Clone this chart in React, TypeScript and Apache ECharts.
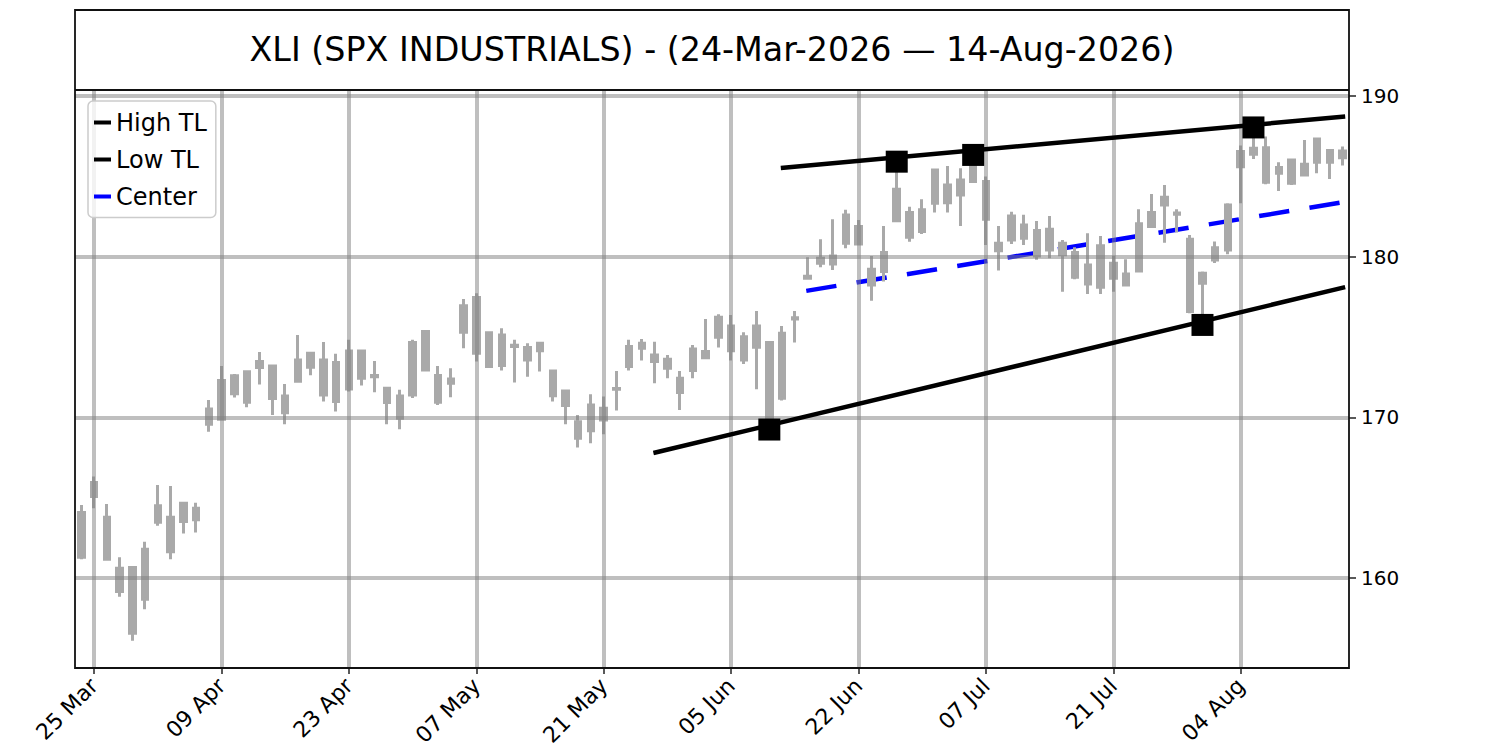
import React, { useEffect, useRef } from "react";
import * as echarts from "echarts";

const FONT = "DejaVu Sans";

const titleText = "XLI (SPX INDUSTRIALS) - (24-Mar-2026 — 14-Aug-2026)";

const dates = [
  "24 Mar", "25 Mar", "26 Mar", "27 Mar", "30 Mar", "31 Mar",
  "01 Apr", "02 Apr", "06 Apr", "07 Apr", "08 Apr", "09 Apr", "10 Apr", "13 Apr", "14 Apr", "15 Apr",
  "16 Apr", "17 Apr", "20 Apr", "21 Apr", "22 Apr", "23 Apr", "24 Apr", "27 Apr", "28 Apr", "29 Apr", "30 Apr",
  "01 May", "04 May", "05 May", "06 May", "07 May", "08 May", "11 May", "12 May", "13 May", "14 May",
  "15 May", "18 May", "19 May", "20 May", "21 May", "22 May", "26 May", "27 May", "28 May", "29 May",
  "01 Jun", "02 Jun", "03 Jun", "04 Jun", "05 Jun", "08 Jun", "09 Jun", "10 Jun", "11 Jun", "12 Jun",
  "15 Jun", "16 Jun", "17 Jun", "18 Jun", "22 Jun", "23 Jun", "24 Jun", "25 Jun", "26 Jun", "29 Jun", "30 Jun",
  "01 Jul", "02 Jul", "06 Jul", "07 Jul", "08 Jul", "09 Jul", "10 Jul", "13 Jul", "14 Jul", "15 Jul",
  "16 Jul", "17 Jul", "20 Jul", "21 Jul", "22 Jul", "23 Jul", "24 Jul", "27 Jul", "28 Jul", "29 Jul", "30 Jul", "31 Jul",
  "03 Aug", "04 Aug", "05 Aug", "06 Aug", "07 Aug", "10 Aug", "11 Aug", "12 Aug", "13 Aug", "14 Aug",
];

const open = [
  161.29, 165.07, 163.78, 160.61, 160.65, 158.68, 163.47, 163.78, 163.51, 164.34,
  169.57, 169.88, 171.46, 172.83, 173.10, 173.20, 171.33, 172.24, 173.12, 173.57,
  173.41, 171.77, 174.13, 172.60, 171.81, 171.33, 171.39, 172.95, 172.60, 172.12,
  175.29, 177.45, 175.27, 173.22, 174.40, 174.34, 174.15, 172.89, 171.64, 169.73,
  169.17, 170.56, 171.74, 173.16, 174.30, 173.88, 173.61, 172.43, 172.91, 173.71,
  174.98, 175.69, 175.02, 174.36, 174.65, 171.19, 176.12, 178.65, 179.59, 179.54,
  180.83, 181.87, 179.21, 179.07, 182.24, 182.74, 181.56, 183.32, 184.46, 183.84,
  184.67, 184.67, 180.83, 181.04, 181.97, 181.62, 180.42, 180.83, 180.25, 179.48,
  178.10, 179.59, 178.92, 179.11, 181.87, 183.22, 182.72, 181.08, 178.34, 179.79,
  180.42, 185.60, 186.37, 186.78, 185.19, 186.02, 185.08, 185.87, 186.60, 186.16,
];
const close = [
  164.07, 165.94, 161.17, 159.16, 156.56, 161.79, 164.49, 161.64, 164.65, 163.62,
  170.52, 172.29, 172.58, 170.94, 173.47, 171.17, 170.29, 173.57, 173.99, 171.39,
  170.98, 174.13, 172.43, 172.52, 170.92, 169.94, 174.65, 175.34, 170.94, 172.39,
  176.95, 173.99, 173.16, 175.13, 174.48, 173.57, 174.61, 171.35, 170.73, 168.70,
  170.77, 169.84, 171.80, 174.40, 174.61, 173.47, 173.05, 171.54, 174.25, 174.09,
  176.23, 174.15, 173.57, 175.69, 169.60, 175.23, 176.20, 178.78, 179.90, 180.04,
  182.59, 180.79, 178.24, 180.25, 184.19, 181.21, 182.91, 185.39, 183.36, 184.77,
  185.90, 182.33, 180.37, 182.53, 181.14, 180.04, 181.70, 180.11, 178.72, 178.30,
  180.67, 178.65, 178.24, 182.04, 182.74, 183.69, 182.64, 176.58, 178.97, 180.56,
  183.22, 186.54, 186.74, 184.63, 185.54, 184.57, 185.75, 187.32, 185.87, 186.58,
];
const low = [
  161.17, 164.34, 161.08, 158.84, 156.09, 158.06, 163.26, 161.17, 162.77, 162.83,
  169.11, 169.80, 171.23, 170.63, 172.04, 170.15, 169.57, 172.20, 172.62, 170.98,
  170.36, 171.60, 171.98, 171.56, 169.57, 169.26, 171.20, 172.90, 170.77, 171.25,
  174.30, 173.47, 173.10, 172.91, 172.16, 172.53, 172.85, 170.98, 169.57, 168.12,
  168.39, 168.95, 170.42, 172.91, 173.53, 172.12, 172.43, 170.46, 172.43, 173.61,
  174.34, 173.53, 173.32, 171.75, 169.24, 171.04, 174.65, 178.60, 179.34, 179.17,
  180.52, 180.70, 177.26, 178.45, 182.18, 180.93, 181.41, 182.74, 182.74, 181.91,
  184.60, 180.73, 179.13, 180.79, 180.73, 179.80, 179.90, 177.82, 178.59, 177.68,
  177.68, 177.82, 178.20, 179.05, 181.80, 180.87, 181.50, 176.48, 175.75, 179.60,
  180.15, 183.32, 186.08, 184.50, 184.09, 184.46, 185.00, 185.19, 184.83, 185.67,
];
const high = [
  164.55, 166.31, 164.61, 161.29, 160.75, 162.25, 165.79, 165.73, 164.70, 164.69,
  171.08, 173.20, 172.70, 172.88, 174.07, 173.25, 172.08, 175.13, 174.03, 174.69,
  173.95, 174.82, 174.19, 173.51, 171.87, 171.71, 174.82, 175.44, 173.20, 173.05,
  177.37, 177.72, 175.34, 175.54, 174.82, 174.61, 174.67, 172.92, 171.67, 170.15,
  171.44, 171.29, 172.89, 174.82, 174.88, 174.71, 173.88, 172.89, 174.50, 176.12,
  176.41, 176.37, 175.29, 176.62, 174.70, 175.69, 176.62, 179.96, 181.08, 182.32,
  182.91, 182.28, 180.04, 181.91, 185.91, 183.11, 183.57, 185.44, 185.64, 185.50,
  186.33, 184.98, 181.91, 182.80, 182.60, 182.22, 182.53, 181.04, 180.58, 181.45,
  181.29, 180.04, 179.84, 182.95, 183.90, 184.46, 182.95, 181.35, 179.07, 180.94,
  183.32, 186.91, 188.04, 187.47, 185.87, 186.05, 187.26, 187.37, 186.70, 186.85,
];

// trend lines: [barIndex, price]
const highTL = [[54.9, 185.52], [99.2, 188.72]];
const lowTL = [[44.9, 167.78], [99.2, 178.1]];
const centerTL = [[56.9, 177.87], [99.2, 183.41]];
const highPivots = [[64, 185.91], [70, 186.33], [92, 188.04]];
const lowPivots = [[54, 169.24], [88, 175.75]];

const yTicks = [160, 170, 180, 190];
const xTickIdx = [1, 11, 21, 31, 41, 51, 61, 71, 81, 91];

const GRID = { left: 75, top: 90, width: 1274, height: 578 };
const CANDLE = "#a9a9a9";
const GRIDLINE = "rgba(128,128,128,0.5)";

export default function App() {
  const ref = useRef<HTMLDivElement>(null);

  useEffect(() => {
    if (!ref.current) return;
    const chart = echarts.init(ref.current, undefined, { renderer: "svg" });

    const candles = dates.map((_, i) => [open[i], close[i], low[i], high[i]]);
    const tickSet = new Set(xTickIdx);

    const option: any = {
      animation: false,
      backgroundColor: "#ffffff",
      textStyle: { fontFamily: FONT },
      grid: { ...GRID, containLabel: false },
      legend: {
        data: [
          { name: "High TL", itemStyle: { color: "#000000" } },
          { name: "Low TL", itemStyle: { color: "#000000" } },
          { name: "Center", itemStyle: { color: "#0000ff" } },
        ],
        orient: "vertical",
        left: 88,
        top: 101,
        icon: "rect",
        itemWidth: 17,
        itemHeight: 4,
        itemGap: 13,
        padding: [9.5, 9, 9, 6],
        itemStyle: { borderWidth: 0 },
        backgroundColor: "rgba(255,255,255,0.8)",
        borderColor: "#cccccc",
        borderWidth: 1.5,
        borderRadius: 5,
        selectedMode: false,
        textStyle: { fontSize: 24, fontFamily: FONT, color: "#000000" },
        z: 20,
      },
      xAxis: [
        {
          type: "category",
          data: dates,
          boundaryGap: true,
          axisLine: { show: false, onZero: false },
          axisTick: {
            show: true,
            alignWithLabel: true,
            interval: (i: number) => tickSet.has(i),
            length: 6,
            lineStyle: { color: "#222222", width: 1.5 },
          },
          axisLabel: {
            interval: (i: number) => tickSet.has(i),
            rotate: 45,
            align: "right",
            verticalAlign: "middle",
            margin: 14,
            fontSize: 22,
            fontFamily: FONT,
            color: "#000000",
          },
          splitLine: { show: false },
        },
        {
          type: "value",
          min: -0.5,
          max: 99.5,
          show: false,
          axisLine: { show: false, onZero: false },
        },
      ],
      yAxis: {
        type: "value",
        position: "right",
        min: 154.4,
        max: 190.37,
        axisLine: { show: false, onZero: false },
        axisTick: {
          show: true,
          customValues: yTicks,
          length: 7,
          lineStyle: { color: "#222222", width: 1.5 },
        },
        axisLabel: {
          customValues: yTicks,
          margin: 12,
          fontSize: 20,
          fontFamily: FONT,
          color: "#000000",
        },
        splitLine: { show: false },
      },
      graphic: [
        {
          type: "rect",
          shape: { x: 75, y: 10, width: 1274, height: 658 },
          style: { fill: "none", stroke: "#111111", lineWidth: 1.8 },
          z: 100,
          silent: true,
        },
        {
          type: "line",
          shape: { x1: 75, y1: 90, x2: 1349, y2: 90 },
          style: { stroke: "#111111", lineWidth: 1.8 },
          z: 100,
          silent: true,
        },
        {
          type: "text",
          x: 712,
          y: 49,
          style: {
            text: titleText,
            fontSize: 33.3,
            fontFamily: FONT,
            fill: "#000000",
            textAlign: "center",
            textVerticalAlign: "middle",
          },
          z: 100,
          silent: true,
        },
      ],
      series: [
        {
          name: "Center",
          type: "line",
          xAxisIndex: 1,
          data: centerTL,
          showSymbol: false,
          symbol: "none",
          itemStyle: { color: "#0000ff" },
          lineStyle: { color: "#0000ff", width: 4.5, type: [30.5, 20.5], cap: "butt" },
          z: 1,
          silent: true,
        },
        {
          name: "Price",
          type: "candlestick",
          xAxisIndex: 0,
          data: candles,
          barWidth: 6,
          itemStyle: {
            color: CANDLE,
            color0: CANDLE,
            borderColor: CANDLE,
            borderColor0: CANDLE,
            borderColorDoji: CANDLE,
            borderWidth: 3,
          },
          z: 2,
          silent: true,
          markLine: {
            silent: true,
            symbol: "none",
            z: 3,
            label: { show: false },
            emphasis: { disabled: true },
            animation: false,
            lineStyle: { color: GRIDLINE, width: 4, type: "solid" },
            data: [
              ...yTicks.map((v) => ({ yAxis: v })),
              ...xTickIdx.map((i) => ({ xAxis: i })),
            ],
          },
        },
        {
          name: "High TL",
          type: "line",
          xAxisIndex: 1,
          data: highTL,
          showSymbol: false,
          symbol: "none",
          itemStyle: { color: "#000000" },
          lineStyle: { color: "#000000", width: 4.5, cap: "butt" },
          z: 4,
          silent: true,
        },
        {
          name: "Low TL",
          type: "line",
          xAxisIndex: 1,
          data: lowTL,
          showSymbol: false,
          symbol: "none",
          itemStyle: { color: "#000000" },
          lineStyle: { color: "#000000", width: 4.5, cap: "butt" },
          z: 4,
          silent: true,
        },
        {
          name: "Pivots",
          type: "scatter",
          xAxisIndex: 1,
          data: [...highPivots, ...lowPivots],
          symbol: "rect",
          symbolSize: 22,
          itemStyle: { color: "#000000", opacity: 1 },
          z: 5,
          silent: true,
        },
      ],
    };

    chart.setOption(option);
    return () => {
      chart.dispose();
    };
  }, []);

  return (
    <div
      ref={ref}
      style={{
        position: "fixed",
        left: 0,
        top: 0,
        width: 1500,
        height: 750,
        background: "#ffffff",
      }}
    />
  );
}
